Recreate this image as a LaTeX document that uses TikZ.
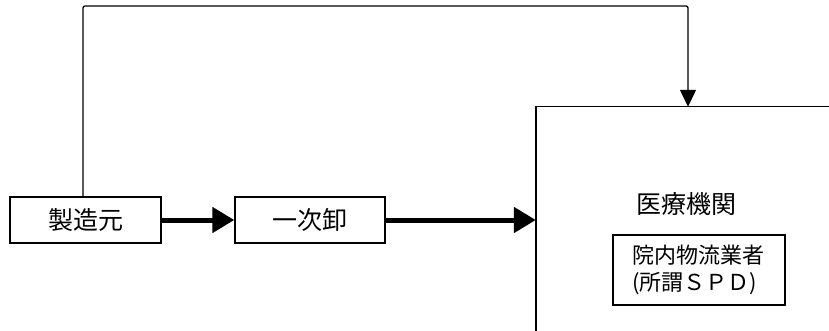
\documentclass[tikz,border=0pt]{standalone}
\usepackage{fontspec}
\newfontfamily\cjk{Noto Sans CJK JP}
\usetikzlibrary{arrows.meta}
\begin{document}
\begin{tikzpicture}[x=1pt,y=-1pt,
  box/.style={draw=black,line width=1.4pt,rectangle,inner sep=0pt,
    font=\cjk\fontsize{25}{28}\selectfont},
  thickarrow/.style={line width=5pt,-{Triangle[length=22pt,width=25pt]}},
  thinarrow/.style={line width=1.3pt,rounded corners=2pt,-{Triangle[length=17pt,width=16pt]}},
  label/.style={inner sep=0pt,font=\cjk\fontsize{25}{28}\selectfont}]
\useasboundingbox (0,0) rectangle (829,331);
\node[box,minimum width=151pt,minimum height=46pt] (maker) at (85.5,220) {製造元};
\node[box,minimum width=150pt,minimum height=46pt] (whole) at (310,220) {一次卸};
\node[rectangle,inner sep=0pt,minimum width=293pt,minimum height=224pt] (hosp) at (682.5,219) {};
\draw[line width=1.4pt] (hosp.north east) -- (hosp.north west) -- (hosp.south west);
\node[label] (hlabel) at (686,204) {医療機関};
\node[box,minimum width=172pt,minimum height=70pt,align=left,
  inner xsep=19pt,inner ysep=0pt,
  font=\cjk\fontsize{22}{27}\selectfont,text width=134pt] (spd) at (699,270)
  {院内物流業者\\(所謂ＳＰＤ)};
\draw[thickarrow] (maker.east) -- (whole.west);
\draw[thickarrow] (whole.east) -- (whole.east -| hosp.west);
\coordinate (tl) at (83,6);
\coordinate (tr) at (688,6);
\draw[thinarrow] (maker.north -| tl) -- (tl) -- (tr) -- (tr |- hosp.north);
\end{tikzpicture}
\end{document}
